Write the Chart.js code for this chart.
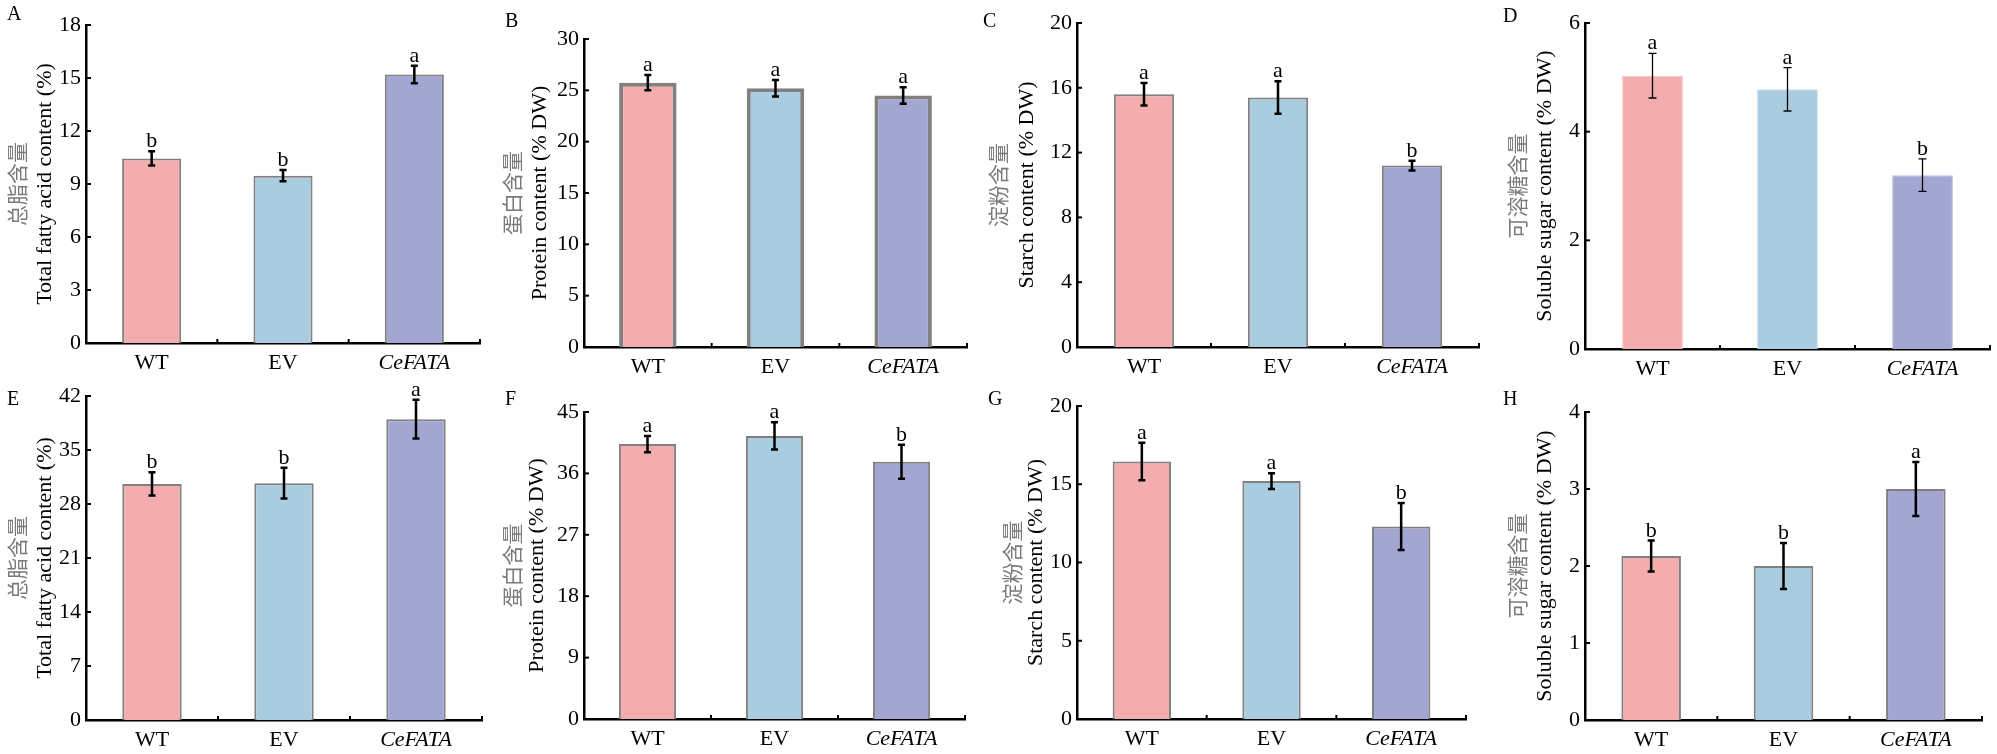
<!DOCTYPE html>
<html>
<head>
<meta charset="utf-8">
<script src="https://cdn.jsdelivr.net/npm/chart.js@4.4.1/dist/chart.umd.min.js"></script>
<style>
    html, body { margin: 0; padding: 0; background: #fff; }
    body { width: 1997px; height: 754px; position: relative; overflow: hidden; }
    .panel { position: absolute; }
    .panel canvas { display: block; }
</style>
</head>
<body>
<div id="panels"></div>
<script>
// Groups on the x axis
const groups = ['WT', 'EV', 'CeFATA'];

// Row 1 (A-D)
const fatA = [10.45, 9.47, 15.2];
const fatAErr = [0.4, 0.32, 0.5];
const fatASig = ['b', 'b', 'a'];
const fatATicks = [0, 3, 6, 9, 12, 15, 18];

const proteinB = [25.75, 25.2, 24.5];
const proteinBErr = [0.75, 0.8, 0.8];
const proteinBSig = ['a', 'a', 'a'];
const proteinBTicks = [0, 5, 10, 15, 20, 25, 30];

const starchC = [15.6, 15.4, 11.2];
const starchCErr = [0.7, 1.0, 0.3];
const starchCSig = ['a', 'a', 'b'];
const starchCTicks = [0, 4, 8, 12, 16, 20];

const sugarD = [5.03, 4.78, 3.2];
const sugarDErr = [0.41, 0.4, 0.3];
const sugarDSig = ['a', 'a', 'b'];
const sugarDTicks = [0, 2, 4, 6];

// Row 2 (E-H)
const fatE = [30.6, 30.7, 39.0];
const fatEErr = [1.5, 2.0, 2.5];
const fatESig = ['b', 'b', 'a'];
const fatETicks = [0, 7, 14, 21, 28, 35, 42];

const proteinF = [40.3, 41.5, 37.7];
const proteinFErr = [1.2, 2.0, 2.5];
const proteinFSig = ['a', 'a', 'b'];
const proteinFTicks = [0, 9, 18, 27, 36, 45];

const starchG = [16.45, 15.2, 12.3];
const starchGErr = [1.2, 0.5, 1.5];
const starchGSig = ['a', 'a', 'b'];
const starchGTicks = [0, 5, 10, 15, 20];

const sugarH = [2.13, 2.0, 3.0];
const sugarHErr = [0.2, 0.3, 0.35];
const sugarHSig = ['b', 'b', 'a'];
const sugarHTicks = [0, 1, 2, 3, 4];

// Axis titles
const zhFat = '总脂含量', enFat = 'Total fatty acid content (%)';
const zhProtein = '蛋白含量', enProtein = 'Protein content (% DW)';
const zhStarch = '淀粉含量', enStarch = 'Starch content (% DW)';
const zhSugar = '可溶糖含量', enSugar = 'Soluble sugar content (% DW)';

const barColors = ['#F4ADAE', '#A9CDDF', '#A2A6D1'];
const SERIF = "'Liberation Serif', 'Times New Roman', serif";
const CJK = "'Noto Sans CJK SC', sans-serif";

// Panel frames: box = canvas position, area = plot area (page coords)
const panels = [
    { letter: 'A', data: fatA, err: fatAErr, sig: fatASig, ticks: fatATicks, zh: zhFat, en: enFat,
      box: [0, 0, 500], area: [86, 480, 25, 343], letterPos: [7, 20], zhX: 17, enX: 45 },
    { letter: 'B', data: proteinB, err: proteinBErr, sig: proteinBSig, ticks: proteinBTicks, zh: zhProtein, en: enProtein,
      box: [500, 0, 475], area: [584, 967, 39, 347], letterPos: [505, 27], zhX: 512, enX: 540, thick: true },
    { letter: 'C', data: starchC, err: starchCErr, sig: starchCSig, ticks: starchCTicks, zh: zhStarch, en: enStarch,
      box: [975, 0, 525], area: [1077, 1479, 23, 347], letterPos: [983, 27], zhX: 998, enX: 1027 },
    { letter: 'D', data: sugarD, err: sugarDErr, sig: sugarDSig, ticks: sugarDTicks, zh: zhSugar, en: enSugar,
      box: [1500, 0, 497], area: [1585, 1990, 23, 349], letterPos: [1503, 22], zhX: 1517, enX: 1545, light: true },
    { letter: 'E', data: fatE, err: fatEErr, sig: fatESig, ticks: fatETicks, zh: zhFat, en: enFat,
      box: [0, 377, 500], area: [86, 482, 396, 720], letterPos: [7, 405], zhX: 17, enX: 45 },
    { letter: 'F', data: proteinF, err: proteinFErr, sig: proteinFSig, ticks: proteinFTicks, zh: zhProtein, en: enProtein,
      box: [500, 377, 475], area: [584, 965, 412, 719], letterPos: [505, 405], zhX: 512, enX: 537 },
    { letter: 'G', data: starchG, err: starchGErr, sig: starchGSig, ticks: starchGTicks, zh: zhStarch, en: enStarch,
      box: [975, 377, 525], area: [1077, 1466, 406, 719], letterPos: [988, 405], zhX: 1012, enX: 1036 },
    { letter: 'H', data: sugarH, err: sugarHErr, sig: sugarHSig, ticks: sugarHTicks, zh: zhSugar, en: enSugar,
      box: [1500, 377, 497], area: [1585, 1982, 412, 720], letterPos: [1503, 405], zhX: 1517, enX: 1545 }
];
const CANVAS_H = 377;
const LABEL_SPACE = 34;   // room under the x axis for group labels

// Error bars, significance letters, inward ticks, titles
const panelDecor = {
    id: 'panelDecor',
    afterDatasetsDraw(chart, args, opts) {
        const ctx = chart.ctx;
        const yScale = chart.scales.y;
        const values = chart.data.datasets[0].data;
        const meta = chart.getDatasetMeta(0);
        ctx.save();
        ctx.strokeStyle = '#000';
        ctx.lineWidth = opts.errWidth;
        meta.data.forEach((bar, i) => {
            const yTop = yScale.getPixelForValue(values[i] + opts.err[i]);
            const yBot = yScale.getPixelForValue(values[i] - opts.err[i]);
            const x = bar.x;
            ctx.beginPath();
            ctx.moveTo(x, yTop); ctx.lineTo(x, yBot);
            ctx.moveTo(x - opts.cap, yTop); ctx.lineTo(x + opts.cap, yTop);
            ctx.moveTo(x - opts.cap, yBot); ctx.lineTo(x + opts.cap, yBot);
            ctx.stroke();
            ctx.fillStyle = '#000';
            ctx.font = '22px ' + SERIF;
            ctx.textAlign = 'center';
            ctx.textBaseline = 'alphabetic';
            ctx.fillText(opts.sig[i], x, yTop - 4);
        });
        ctx.restore();
    },
    afterDraw(chart, args, opts) {
        const ctx = chart.ctx;
        const area = chart.chartArea;
        const xScale = chart.scales.x;
        const yScale = chart.scales.y;
        ctx.save();
        ctx.strokeStyle = '#000';
        ctx.lineWidth = 2;
        // inward y ticks
        yScale.ticks.forEach((t, i) => {
            const py = yScale.getPixelForTick(i);
            ctx.beginPath();
            ctx.moveTo(area.left, py);
            ctx.lineTo(area.left + 5, py);
            ctx.stroke();
        });
        // inward x ticks at group boundaries
        for (let i = 0; i < groups.length; i++) {
            const px = xScale.getPixelForValue(i + 0.5);
            ctx.beginPath();
            ctx.moveTo(px, area.bottom);
            ctx.lineTo(px, area.bottom - 4);
            ctx.stroke();
        }
        const midY = (area.top + area.bottom) / 2;
        // Chinese title (grey) and English title (black)
        ctx.textAlign = 'center';
        ctx.textBaseline = 'middle';
        ctx.save();
        ctx.translate(opts.zhX, midY);
        ctx.rotate(-Math.PI / 2);
        ctx.fillStyle = '#7a7a7a';
        ctx.font = '21px ' + CJK;
        ctx.fillText(opts.zh, 0, 0);
        ctx.restore();
        ctx.save();
        ctx.translate(opts.enX, midY);
        ctx.rotate(-Math.PI / 2);
        ctx.fillStyle = '#000';
        ctx.font = '22px ' + SERIF;
        ctx.fillText(opts.en, 0, 0);
        ctx.restore();
        // panel letter
        ctx.fillStyle = '#000';
        ctx.font = '20px ' + SERIF;
        ctx.textAlign = 'left';
        ctx.textBaseline = 'alphabetic';
        ctx.fillText(opts.letter, opts.letterPos[0], opts.letterPos[1]);
        ctx.restore();
    }
};

function buildPanel(p) {
    const [boxLeft, boxTop, boxWidth] = p.box;
    const [aLeft, aRight, aTop, aBottom] = p.area;
    // canvas ends a little below the axis so labels are never cut
    const boxHeight = aBottom - boxTop + LABEL_SPACE;
    const wrap = document.createElement('div');
    wrap.className = 'panel';
    wrap.style.left = boxLeft + 'px';
    wrap.style.top = boxTop + 'px';
    const canvas = document.createElement('canvas');
    canvas.width = boxWidth;
    canvas.height = boxHeight;
    canvas.style.width = boxWidth + 'px';
    canvas.style.height = boxHeight + 'px';
    wrap.appendChild(canvas);
    document.getElementById('panels').appendChild(wrap);

    const borderColor = p.light ? ['#F7C3C4', '#C4DEEA', '#BDC0DF'] : '#808080';
    const borderWidth = p.thick ? 4 : (p.light ? 1 : 2);

    new Chart(canvas.getContext('2d'), {
        type: 'bar',
        data: {
            labels: groups,
            datasets: [{
                data: p.data,
                backgroundColor: barColors,
                borderColor: borderColor,
                borderWidth: borderWidth,
                barPercentage: 0.45,
                categoryPercentage: 1
            }]
        },
        options: {
            responsive: false,
            animation: false,
            devicePixelRatio: 1,
            layout: {
                padding: { left: 0, right: boxLeft + boxWidth - aRight, top: aTop - boxTop, bottom: 0 }
            },
            plugins: {
                legend: { display: false },
                tooltip: { enabled: false },
                panelDecor: {
                    err: p.err, sig: p.sig, zh: p.zh, en: p.en, letter: p.letter,
                    zhX: p.zhX - boxLeft, enX: p.enX - boxLeft,
                    letterPos: [p.letterPos[0] - boxLeft, p.letterPos[1] - boxTop],
                    errWidth: p.light ? 1.3 : 2.5,
                    cap: p.light ? 4 : 3.5
                }
            },
            scales: {
                x: {
                    grid: { display: false, drawTicks: false },
                    border: { display: true, color: '#000', width: 2.5 },
                    ticks: {
                        color: '#000',
                        padding: 7,
                        font: (c) => ({ family: SERIF, size: 22, style: c.index === 2 ? 'italic' : 'normal' })
                    },
                    afterFit: (scale) => { scale.height = LABEL_SPACE; }
                },
                y: {
                    min: p.ticks[0],
                    max: p.ticks[p.ticks.length - 1],
                    grid: { display: false, drawTicks: false },
                    border: { display: true, color: '#000', width: 2.5 },
                    ticks: {
                        color: '#000',
                        padding: 5,
                        font: { family: SERIF, size: 22 }
                    },
                    afterBuildTicks: (scale) => { scale.ticks = p.ticks.map(v => ({ value: v })); },
                    afterFit: (scale) => { scale.width = aLeft - boxLeft; }
                }
            }
        },
        plugins: [panelDecor]
    });
}

document.addEventListener('DOMContentLoaded', function() {
    panels.forEach(buildPanel);
});
</script>
</body>
</html>
